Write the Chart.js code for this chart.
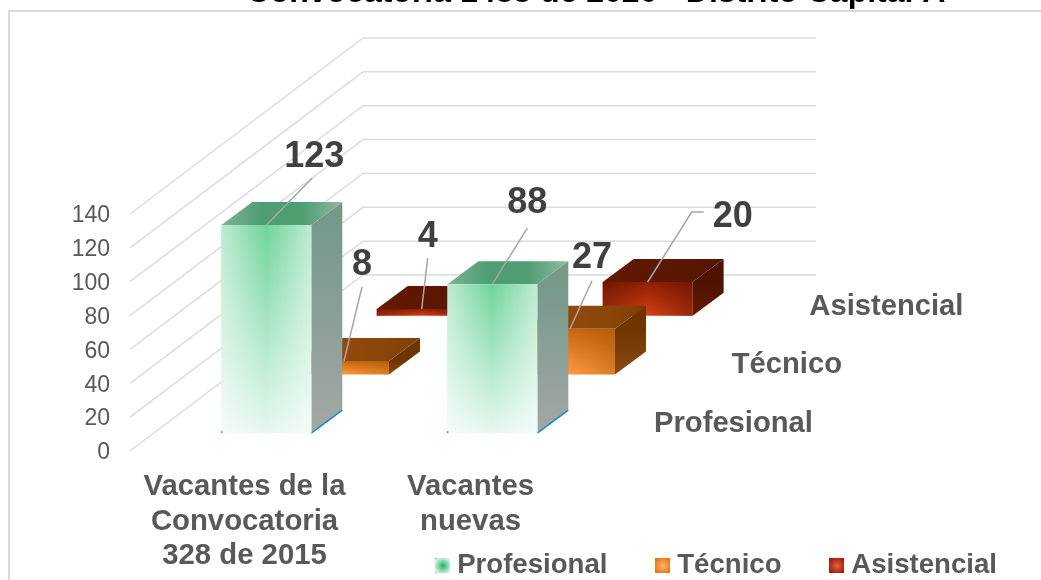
<!DOCTYPE html>
<html lang="es">
<head>
<meta charset="utf-8">
<title>Convocatoria 1488 de 2020</title>
<style>
  html, body { margin: 0; padding: 0; background: #fff; overflow: hidden; }
  #wrap { position: absolute; left: 0; top: 0; width: 1041px; height: 580px; }
</style>
<script src="https://cdn.jsdelivr.net/npm/chart.js@4"></script>
</head>
<body>
<div id="wrap"><canvas id="myChart"></canvas></div>
<script>
"use strict";

const chartTitle = "Convocatoria 1488 de 2020 - Distrito Capital A";
const categories = [["Vacantes de la", "Convocatoria", "328 de 2015"], ["Vacantes", "nuevas"]];
const seriesNames = ["Profesional", "Técnico", "Asistencial"];
const profesional = [123, 88];
const tecnico = [8, 27];
const asistencial = [4, 20];
const seriesValues = [profesional, tecnico, asistencial];

// fake 3d: how far back each row sits and how deep one bar is
const wallX = 233;
const wallY = 176;
const rowX = wallX / 3;
const rowY = wallY / 3;
const barDepthX = 31;
const barDepthY = 23;
const firstRowX = (rowX - barDepthX) / 2;
const firstRowY = (rowY - barDepthY) / 2;

const textFont = '"Liberation Sans", Arial, sans-serif';
Chart.defaults.font.family = textFont;

// per series colours of the faces
const faces = [
  {
    front: ["#6ed39a", "#e6f8ee"],
    sheen: "rgba(255,255,255,0.55)",
    side: ["#76998a", "#a4a7a5"],
    top: ["#7db295", "#4f9e72", "#4f9e72", "#8fb9a1"],
    edge: "#1b8dbf",
  },
  {
    front: ["#c8660c", "#ff9a3e"],
    sheen: "rgba(150,70,0,0.35)",
    side: ["#6f3500", "#8b4a12"],
    top: ["#94490c", "#92480b", "#8c4609", "#7c3e05"],
  },
  {
    front: ["#8f1f00", "#d8421a"],
    sheen: "rgba(90,15,0,0.5)",
    side: ["#4d1300", "#651900"],
    top: ["#641a00", "#5c1700", "#5c1700", "#551500"],
  },
];

// data label callouts, relative to the middle of the bar's top front edge
const callouts = [
  [{ label: [48, -68], line: [[46, -47]] }, { label: [35, -81], line: [[35, -56]] }],
  [{ label: [18, -96], line: [[18, -74]] }, { label: [22, -71], line: [[22, -48]] }],
  [{ label: [6, -72], line: [[6, -51]] }, { label: [85, -65], line: [[44, -70], [56, -70]] }],
];

// legend squares
const markerColors = [
  ["#1fb565", "#e2f6ea"],
  ["#ffb676", "#e8750c"],
  ["#e8604a", "#a01c00"],
];

function makeMarker(colors, withDots) {
  const c = document.createElement("canvas");
  c.width = 15;
  c.height = 15;
  const g = c.getContext("2d");
  const grad = g.createRadialGradient(7.5, 7.5, 0, 7.5, 7.5, 9);
  grad.addColorStop(0, colors[0]);
  grad.addColorStop(1, colors[1]);
  g.fillStyle = grad;
  g.fillRect(0, 0, 15, 15);
  if (withDots) {
    g.fillStyle = "#29a8e0";
    g.fillRect(0, 0, 1, 1);
    g.fillRect(0, 14, 1, 1);
  }
  return c;
}

const markers = markerColors.map((colors, i) => makeMarker(colors, i === 0));

function rowShift(i) {
  return { x: firstRowX + rowX * i, y: -(firstRowY + rowY * i) };
}

function linear(ctx, x0, y0, x1, y1, stops) {
  const grad = ctx.createLinearGradient(x0, y0, x1, y1);
  stops.forEach((s, i) => grad.addColorStop(i / (stops.length - 1), s));
  return grad;
}

function polygon(ctx, points, fill) {
  ctx.beginPath();
  points.forEach((p, i) => (i === 0 ? ctx.moveTo(p[0], p[1]) : ctx.lineTo(p[0], p[1])));
  ctx.closePath();
  ctx.fillStyle = fill;
  ctx.fill();
}

const frontFill = function (seriesIndex) {
  return function (context) {
    const chart = context.chart;
    if (!chart.chartArea || context.parsed === undefined) return faces[seriesIndex].front[1];
    const y = chart.scales.y;
    const top = y.getPixelForValue(context.parsed.y);
    return linear(chart.ctx, 0, top, 0, y.getPixelForValue(0), faces[seriesIndex].front);
  };
};

const box3d = {
  id: "box3d",
  afterLayout(chart) {
    // the scale clips its labels to its own box, the long names go lower than that
    chart.scales.x.bottom = chart.height;
  },
  beforeDraw(chart) {
    const ctx = chart.ctx;
    ctx.save();
    ctx.strokeStyle = "#d9d9d9";
    ctx.lineWidth = 2;
    ctx.strokeRect(9, 11, 2000, 2000);
    ctx.fillStyle = "#000";
    ctx.font = "bold 32px " + textFont;
    ctx.textAlign = "center";
    ctx.textBaseline = "alphabetic";
    ctx.fillText(chartTitle, 596, 2);
    ctx.restore();
  },
  beforeDatasetsDraw(chart) {
    const ctx = chart.ctx;
    const y = chart.scales.y;
    const area = chart.chartArea;
    ctx.save();
    ctx.strokeStyle = "#dcdcdc";
    ctx.lineWidth = 1.5;
    y.ticks.forEach(function (tick) {
      const py = y.getPixelForValue(tick.value);
      ctx.beginPath();
      ctx.moveTo(area.left, py);
      ctx.lineTo(area.left + wallX, py - wallY);
      ctx.lineTo(area.right + wallX + 1, py - wallY);
      ctx.stroke();
    });
    ctx.restore();
    // series names on the depth axis
    ctx.save();
    ctx.fillStyle = "#595959";
    ctx.font = "bold 29.2px " + textFont;
    ctx.textBaseline = "middle";
    seriesNames.forEach(function (name, i) {
      ctx.fillText(name, area.right + 72 + rowX * i, area.bottom - 27 - rowY * i);
    });
    ctx.restore();
  },
  beforeDatasetDraw(chart, args) {
    const ctx = chart.ctx;
    const i = args.index;
    const shift = rowShift(i);
    const style = faces[i];
    ctx.save();
    ctx.translate(shift.x, shift.y);
    args.meta.data.forEach(function (bar) {
      const p = bar.getProps(["x", "y", "base", "width"], true);
      const l = p.x - p.width / 2;
      const r = p.x + p.width / 2;
      polygon(
        ctx,
        [[r, p.y], [r + barDepthX, p.y - barDepthY], [r + barDepthX, p.base - barDepthY], [r, p.base]],
        linear(ctx, 0, p.y, 0, p.base, style.side)
      );
      polygon(
        ctx,
        [[l, p.y], [l + barDepthX, p.y - barDepthY], [r + barDepthX, p.y - barDepthY], [r, p.y]],
        linear(ctx, l, 0, r + barDepthX, 0, style.top)
      );
      if (style.edge) {
        ctx.strokeStyle = style.edge;
        ctx.lineWidth = 1.5;
        ctx.beginPath();
        ctx.moveTo(r, p.base);
        ctx.lineTo(r + barDepthX, p.base - barDepthY);
        ctx.stroke();
      }
    });
  },
  afterDatasetDraw(chart, args) {
    const ctx = chart.ctx;
    const style = faces[args.index];
    args.meta.data.forEach(function (bar) {
      const p = bar.getProps(["x", "y", "base", "width"], true);
      const l = p.x - p.width / 2;
      const clear = style.sheen.replace(/[\d.]+\)$/, "0)");
      ctx.fillStyle = linear(ctx, l, 0, l + p.width, 0, [style.sheen, clear, style.sheen]);
      ctx.fillRect(l, p.y, p.width, p.base - p.y);
      if (style.edge) {
        ctx.fillStyle = "#29a8e0";
        ctx.fillRect(l - 0.5, p.base - 2, 1.5, 2);
      }
    });
    ctx.restore();
  },
  afterDatasetsDraw(chart) {
    const ctx = chart.ctx;
    chart.data.datasets.forEach(function (dataset, i) {
      const shift = rowShift(i);
      chart.getDatasetMeta(i).data.forEach(function (bar, j) {
        const p = bar.getProps(["x", "y"], true);
        const ax = p.x + shift.x;
        const ay = p.y + shift.y;
        const note = callouts[i][j];
        ctx.save();
        ctx.strokeStyle = "#a6a6a6";
        ctx.lineWidth = 1.5;
        ctx.beginPath();
        ctx.moveTo(ax, ay);
        note.line.forEach((pt) => ctx.lineTo(ax + pt[0], ay + pt[1]));
        ctx.stroke();
        ctx.fillStyle = "#404040";
        ctx.font = "bold 36px " + textFont;
        ctx.textAlign = "center";
        ctx.textBaseline = "middle";
        ctx.fillText(String(dataset.data[j]), ax + note.label[0], ay + note.label[1]);
        ctx.restore();
      });
    });
  },
};

new Chart(document.getElementById("myChart"), {
  type: "bar",
  data: {
    labels: categories,
    datasets: seriesNames.map((name, i) => ({
      label: name,
      data: seriesValues[i],
      grouped: false,
      clip: false,
      barPercentage: 0.398,
      categoryPercentage: 1,
      backgroundColor: frontFill(i),
    })),
  },
  plugins: [box3d],
  options: {
    responsive: true,
    maintainAspectRatio: false,
    animation: false,
    layout: { padding: { top: 214, left: 0, right: -11, bottom: -9.6 } },
    plugins: {
      title: { display: false },
      tooltip: { enabled: false },
      legend: {
        position: "bottom",
        align: "end",
        labels: {
          usePointStyle: true,
          pointStyleWidth: 1,
          padding: 55,
          color: "#595959",
          font: { size: 27.6, weight: "bold" },
          generateLabels: () =>
            seriesNames.map((name, i) => ({
              text: name,
              pointStyle: markers[i],
              fontColor: "#595959",
              hidden: false,
              datasetIndex: i,
              lineWidth: 0,
            })),
        },
      },
    },
    scales: {
      x: {
        grid: { display: false },
        border: { display: false },
        afterFit(scale) {
          scale.height = 46;
        },
        ticks: {
          autoSkip: false,
          maxRotation: 0,
          padding: 11,
          labelOffset: 1.5,
          color: "#595959",
          font: { size: 29.3, weight: "bold", lineHeight: 1.17 },
        },
      },
      y: {
        min: 0,
        max: 140,
        grid: { display: false },
        border: { display: false },
        afterFit(scale) {
          scale.width = 130;
        },
        ticks: {
          stepSize: 20,
          padding: 12,
          labelOffset: 2,
          color: "#595959",
          font: { size: 23 },
        },
      },
      // depth axis, keeps the room on the right of the bars
      depth: {
        type: "category",
        position: "right",
        labels: seriesNames,
        grid: { display: false },
        border: { display: false },
        ticks: { display: false },
        afterFit(scale) {
          scale.width = 470;
        },
      },
    },
  },
});
</script>
</body>
</html>
